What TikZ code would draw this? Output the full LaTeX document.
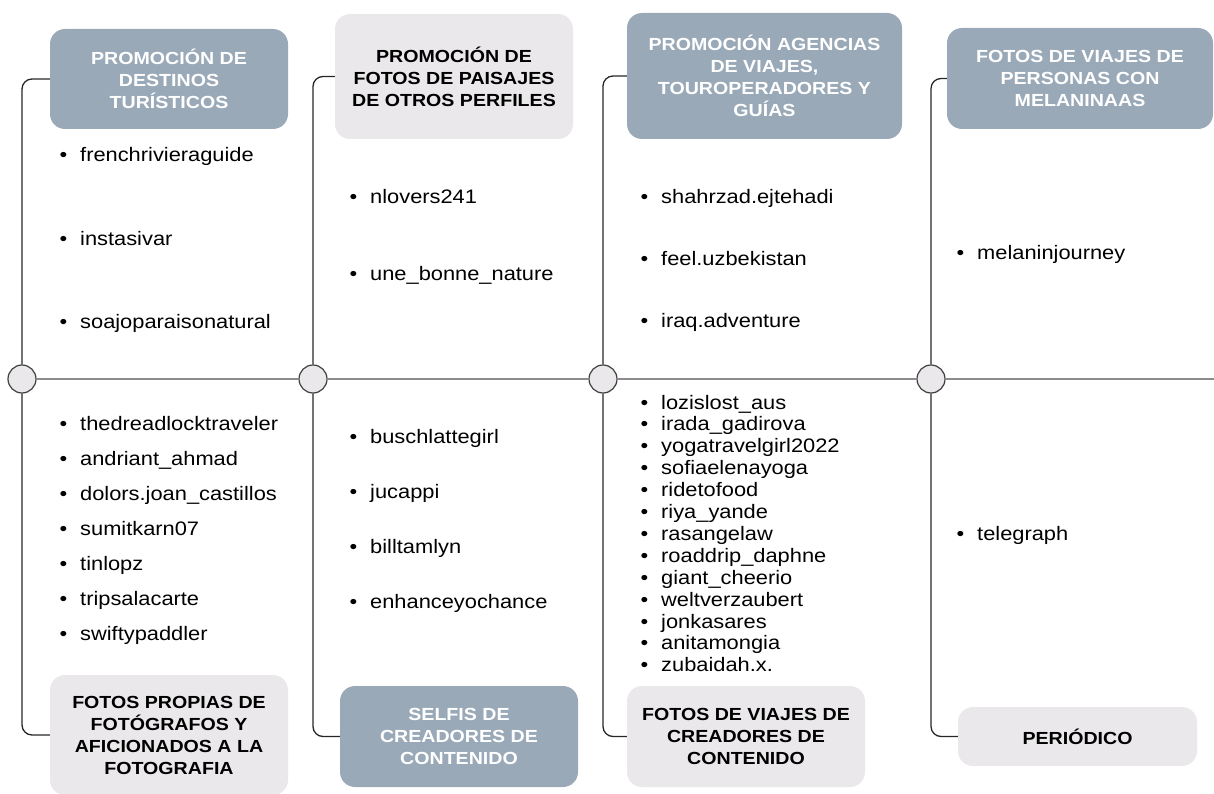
\documentclass[tikz,border=0pt]{standalone}
\usepackage{fontspec}
\setmainfont{Liberation Sans}[FakeStretch=1.12]

\definecolor{slate}{HTML}{9AA9B8}
\definecolor{pale}{HTML}{EAE8EA}
\definecolor{rail}{HTML}{8C8C8C}

\newcommand\dotitem[1]{\llap{\textbullet\hspace{13pt}}#1}

\tikzset{
  cat/.style={rounded corners=15pt, align=center, inner sep=0,
    font=\fontsize{17.5}{22}\selectfont\bfseries},
  dark/.style={cat, fill=slate, text=white},
  light/.style={cat, fill=pale, text=black},
  item/.style={anchor=west, inner sep=0, text height=18pt, text depth=4pt,
    font=\fontsize{19.5}{22}\selectfont},
  hub/.style={circle, draw=black!75, fill=pale, minimum size=28pt,
    inner sep=0, line width=1.2pt},
  link/.style={draw=black!85, line width=1.3pt, rounded corners=10pt},
}

\begin{document}
\begin{tikzpicture}[x=1pt, y=-1pt]
  \clip (0,0) rectangle (1214,794);

  % timeline
  \node[hub] (c1) at (22,379) {};
  \node[hub] (c2) at (313,379) {};
  \node[hub] (c3) at (603,379) {};
  \node[hub] (c4) at (931,379) {};
  \coordinate (rim) at (1214,379);
  \draw[rail, line width=1.6pt] (c1) -- (c2) -- (c3) -- (c4) -- (rim);

  % top categories
  \node[dark, minimum width=238, minimum height=100] (t1) at (169,79)
    {PROMOCIÓN DE\\DESTINOS\\TURÍSTICOS};
  \node[light, minimum width=238, minimum height=125] (t2) at (454,76.5)
    {PROMOCIÓN DE\\FOTOS DE PAISAJES\\DE OTROS PERFILES};
  \node[dark, minimum width=275, minimum height=126] (t3) at (764.5,76)
    {PROMOCIÓN AGENCIAS\\DE VIAJES,\\TOUROPERADORES Y\\GUÍAS};
  \node[dark, minimum width=266, minimum height=101] (t4) at (1080,78.5)
    {FOTOS DE VIAJES DE\\PERSONAS CON\\MELANINAAS};

  % bottom categories
  \node[light, minimum width=238, minimum height=120] (b1) at (169,735)
    {FOTOS PROPIAS DE\\FOTÓGRAFOS Y\\AFICIONADOS A LA\\FOTOGRAFIA};
  \node[dark, minimum width=238, minimum height=101] (b2) at (459,736.5)
    {SELFIS DE\\CREADORES DE\\CONTENIDO};
  \node[light, minimum width=238, minimum height=101] (b3) at (746,736.5)
    {FOTOS DE VIAJES DE\\CREADORES DE\\CONTENIDO};
  \node[light, minimum width=239, minimum height=59] (b4) at (1077.5,736.5)
    {PERIÓDICO};

  % branches
  \foreach \i in {1,...,4} {
    \draw[link] (t\i.west) -| (c\i.north);
    \draw[link] (b\i.west) -| (c\i.south);
  }

  % accounts
  \foreach \name [count=\k from 0] in {frenchrivieraguide, instasivar, soajoparaisonatural}
    \node[item] (ta\k) at (80,155+83*\k) {\dotitem{\name}};
  \foreach \name [count=\k from 0] in {thedreadlocktraveler, andriant\_ahmad,
      dolors.joan\_castillos, sumitkarn07, tinlopz, tripsalacarte, swiftypaddler}
    \node[item] (ba\k) at (80,423+35*\k) {\dotitem{\name}};
  \foreach \name [count=\k from 0] in {nlovers241, une\_bonne\_nature}
    \node[item] (tb\k) at (370,197+76*\k) {\dotitem{\name}};
  \foreach \name [count=\k from 0] in {buschlattegirl, jucappi, billtamlyn, enhanceyochance}
    \node[item] (bb\k) at (370,436+55*\k) {\dotitem{\name}};
  \foreach \name [count=\k from 0] in {shahrzad.ejtehadi, feel.uzbekistan, iraq.adventure}
    \node[item] (tc\k) at (661,197+61.5*\k) {\dotitem{\name}};
  \foreach \name [count=\k from 0] in {lozislost\_aus, irada\_gadirova, yogatravelgirl2022,
      sofiaelenayoga, ridetofood, riya\_yande, rasangelaw, roaddrip\_daphne,
      giant\_cheerio, weltverzaubert, jonkasares, anitamongia, zubaidah.x.}
    \node[item] (bc\k) at (661,402+21.9*\k) {\dotitem{\name}};
  \node[item] (td0) at (977,252) {\dotitem{melaninjourney}};
  \node[item] (bd0) at (977,533) {\dotitem{telegraph}};
\end{tikzpicture}
\end{document}
